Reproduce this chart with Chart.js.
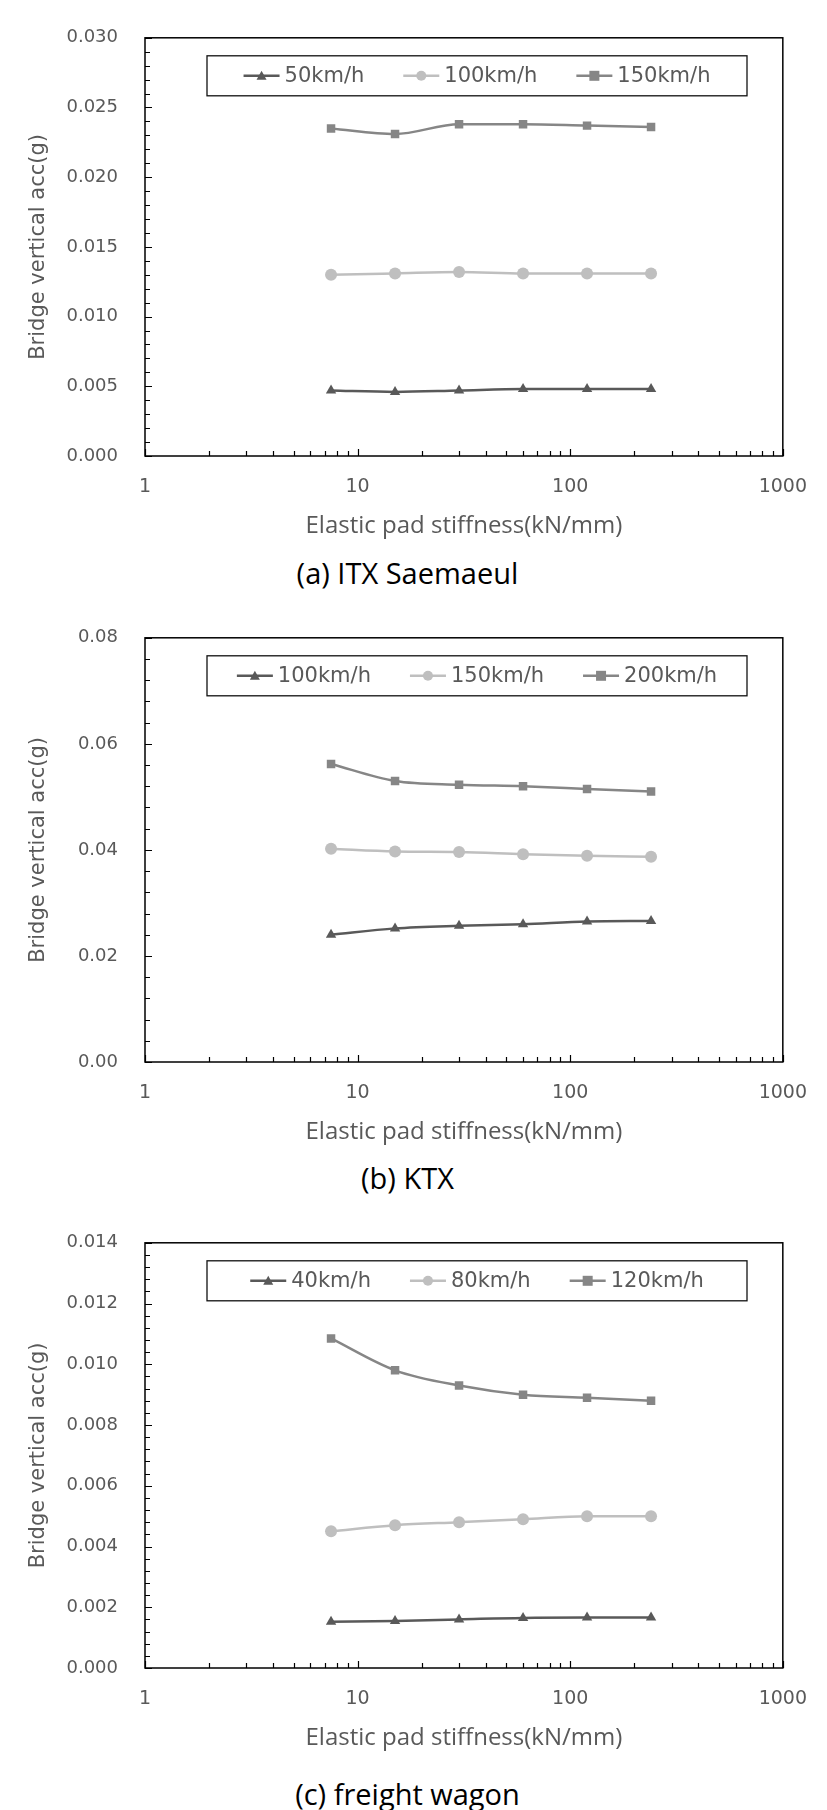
<!DOCTYPE html>
<html><head><meta charset="utf-8">
<script src="https://cdn.jsdelivr.net/npm/chart.js@4"></script>
<style>
body{margin:0;background:#fff;width:827px;height:1810px;position:relative;overflow:hidden}
canvas{position:absolute;left:0}
.cap{position:absolute;left:0;width:827px;text-align:center;font-family:"Open Sans",sans-serif;font-size:29px;color:#000;line-height:1;transform:translateY(-50%)}
</style></head><body>
<canvas id="c1" width="827" height="545" style="top:0px"></canvas>
<div class="cap" style="top:572px;left:-6px">(a) ITX Saemaeul</div>
<canvas id="c2" width="827" height="551" style="top:600px"></canvas>
<div class="cap" style="top:1177px;left:-6px">(b) KTX</div>
<canvas id="c3" width="827" height="552" style="top:1205px"></canvas>
<div class="cap" style="top:1793px;left:-6px">(c) freight wagon</div>
<script>
const stiffness = [7.5, 15, 30, 60, 120, 240];
const xTickLabels = [1, 10, 100, 1000];

const itxLabels = ['50km/h', '100km/h', '150km/h'];
const itx50 = [0.0047, 0.0046, 0.0047, 0.0048, 0.0048, 0.0048];
const itx100 = [0.0130, 0.0131, 0.0132, 0.0131, 0.0131, 0.0131];
const itx150 = [0.0235, 0.0231, 0.0238, 0.0238, 0.0237, 0.0236];

const ktxLabels = ['100km/h', '150km/h', '200km/h'];
const ktx100 = [0.0240, 0.0252, 0.0257, 0.0260, 0.0265, 0.0266];
const ktx150 = [0.0402, 0.0397, 0.0396, 0.0392, 0.0389, 0.0387];
const ktx200 = [0.0562, 0.0530, 0.0523, 0.0520, 0.0515, 0.0510];

const frLabels = ['40km/h', '80km/h', '120km/h'];
const fr40 = [0.00152, 0.00155, 0.00160, 0.00165, 0.00166, 0.00166];
const fr80 = [0.0045, 0.0047, 0.0048, 0.0049, 0.0050, 0.0050];
const fr120 = [0.01085, 0.0098, 0.0093, 0.0090, 0.0089, 0.0088];

const COLORS = ['#595959', '#bfbfbf', '#868686'];
const SHAPES = ['triangle', 'circle', 'rect'];
const RADII = [6, 6, 6];

function drawMarker(ctx, shape, x, y, r, color) {
  ctx.fillStyle = color;
  ctx.beginPath();
  if (shape === 'triangle') { ctx.moveTo(x, y - r); ctx.lineTo(x + r, y + r * 0.8); ctx.lineTo(x - r, y + r * 0.8); ctx.closePath(); }
  else if (shape === 'circle') { ctx.arc(x, y, r, 0, Math.PI * 2); }
  else { ctx.rect(x - r, y - r, 2 * r, 2 * r); }
  ctx.fill();
}

const framePlugin = {
  id: 'frame',
  afterDraw(chart, args, opts) {
    const ctx = chart.ctx, a = chart.chartArea;
    const xs = chart.scales.x, ys = chart.scales.y;
    ctx.save();
    ctx.strokeStyle = '#000'; ctx.lineWidth = 1.5;
    ctx.strokeRect(a.left, a.top, a.right - a.left, a.bottom - a.top);
    ctx.lineWidth = 1.2;
    ctx.beginPath();
    const step = opts.step, minor = step / 5;
    for (let v = 0; v <= ys.max + 1e-9; v += minor) {
      const k = Math.round(v / minor);
      const y = Math.round(ys.getPixelForValue(v)) + 0.5;
      const len = (k % 5 === 0) ? 7 : 5;
      ctx.moveTo(a.left, y); ctx.lineTo(a.left + len, y);
    }
    for (let d = 1; d < 1000; d *= 10) {
      for (let m = 1; m <= 10; m++) {
        const v = d * m;
        const x = Math.round(xs.getPixelForValue(v)) + 0.5;
        const len = (m === 1 || m === 10) ? 7 : 5;
        ctx.moveTo(x, a.bottom); ctx.lineTo(x, a.bottom - len);
      }
    }
    ctx.stroke();
    const bx = 207, bw = 540, by = a.top + 18, bh = 40;
    ctx.fillStyle = '#fff'; ctx.fillRect(bx, by, bw, bh);
    ctx.strokeStyle = '#111'; ctx.lineWidth = 1.3;
    ctx.strokeRect(bx, by, bw, bh);
    ctx.font = '21px "DejaVu Sans"';
    const gap = 39, lineLen = 36, tgap = 5;
    const ws = chart.data.datasets.map(ds => ctx.measureText(ds.label).width);
    const total = ws.reduce((s, w) => s + w + lineLen + tgap, 0) + gap * (ws.length - 1);
    let x = bx + (bw - total) / 2;
    const cy = by + bh / 2;
    chart.data.datasets.forEach((ds, i) => {
      ctx.strokeStyle = COLORS[i]; ctx.lineWidth = 2.5;
      ctx.beginPath(); ctx.moveTo(x, cy); ctx.lineTo(x + lineLen, cy); ctx.stroke();
      drawMarker(ctx, SHAPES[i], x + lineLen / 2, cy, 5, COLORS[i]);
      ctx.fillStyle = '#595959'; ctx.textBaseline = 'middle'; ctx.textAlign = 'left';
      ctx.fillText(ds.label, x + lineLen + tgap, cy + 1);
      x += lineLen + tgap + ws[i] + gap;
    });
    ctx.restore();
  }
};

function makeChart(id, labels, series, yMax, step, decimals, padTop) {
  new Chart(document.getElementById(id), {
    type: 'line',
    data: {
      datasets: series.map((vals, i) => ({
        label: labels[i],
        data: stiffness.map((s, j) => ({ x: s, y: vals[j] })),
        borderColor: COLORS[i], backgroundColor: COLORS[i],
        borderWidth: 2.5, pointStyle: SHAPES[i], pointRadius: RADII[i],
        pointBorderWidth: 0, tension: 0.3, cubicInterpolationMode: 'monotone'
      }))
    },
    options: {
      responsive: false, animation: false, devicePixelRatio: 1,
      layout: { padding: { top: padTop, right: 39, left: 0, bottom: 0 } },
      plugins: { legend: { display: false }, tooltip: { enabled: false }, frame: { step } },
      scales: {
        x: {
          type: 'logarithmic', min: 1, max: 1000,
          afterBuildTicks(s) { s.ticks = xTickLabels.map(v => ({ value: v })); },
          afterFit(s) { s.height = 89; },
          grid: { display: false, drawTicks: false }, border: { display: false },
          ticks: { padding: 20, color: '#595959', font: { family: 'DejaVu Sans', size: 19 }, maxRotation: 0, autoSkip: false, callback: v => String(v) },
          title: { display: true, text: 'Elastic pad stiffness(kN/mm)', color: '#595959', font: { family: 'Open Sans', size: 24 }, padding: { top: 0, bottom: 4 } }
        },
        y: {
          min: 0, max: yMax,
          afterFit(s) { s.width = 145; },
          grid: { display: false, drawTicks: false }, border: { display: false },
          ticks: { stepSize: step, padding: 27, color: '#595959', font: { family: 'DejaVu Sans', size: 18 }, callback: v => v.toFixed(decimals) },
          title: { display: true, text: 'Bridge vertical acc(g)', color: '#595959', font: { family: 'DejaVu Sans', size: 21 }, padding: { top: 26, bottom: 0 } }
        }
      }
    },
    plugins: [framePlugin]
  });
}

makeChart('c1', itxLabels, [itx50, itx100, itx150], 0.030, 0.005, 3, 22);
makeChart('c2', ktxLabels, [ktx100, ktx150, ktx200], 0.08, 0.02, 2, 29);
makeChart('c3', frLabels, [fr40, fr80, fr120], 0.014, 0.002, 3, 27);
</script>
</body></html>
